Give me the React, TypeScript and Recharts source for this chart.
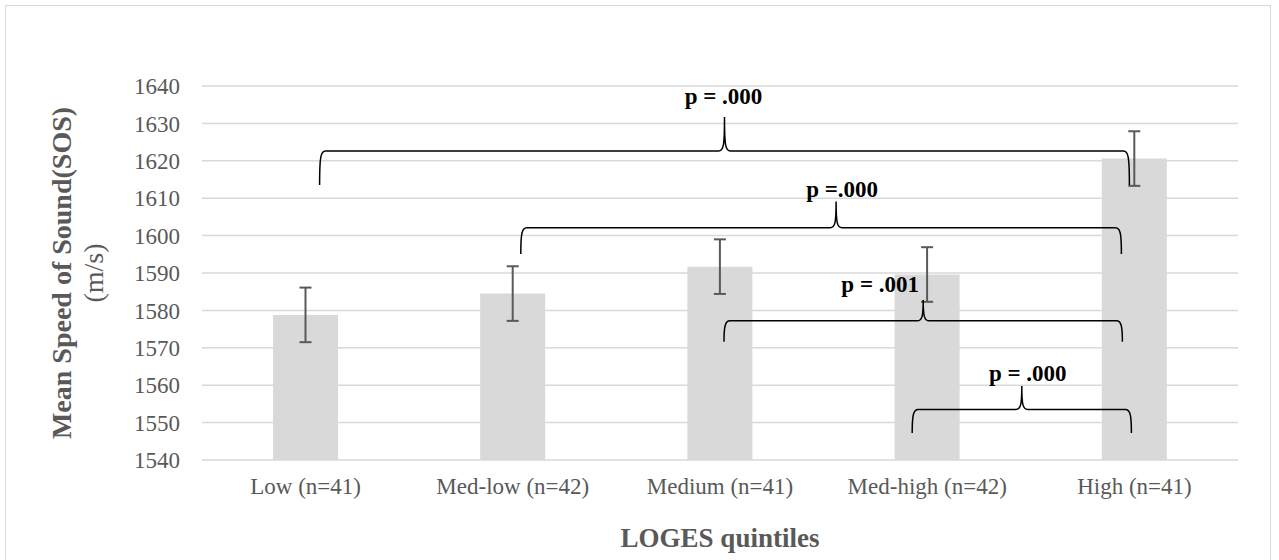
import * as React from "react";
import {
	ComposedChart,
	Bar,
	ErrorBar,
	XAxis,
	YAxis,
	CartesianGrid,
	ReferenceLine,
	Label,
} from "recharts";

// ─── Data ──────────────────────────────────────────────────────────────────

const categories = [
	"Low (n=41)",
	"Med-low (n=42)",
	"Medium (n=41)",
	"Med-high (n=42)",
	"High (n=41)",
];
const meanSOS = [1578.8, 1584.5, 1591.7, 1589.6, 1620.6];
const errSOS = [7.3, 7.3, 7.3, 7.3, 7.3];
const yTicks = [1540, 1550, 1560, 1570, 1580, 1590, 1600, 1610, 1620, 1630, 1640];

// brackets: from category index -> to category index, tip / peak values
const braceFrom = [0, 1, 2, 3];
const braceTo = [4, 4, 4, 4];
const braceTip = [1613.5, 1595.1, 1571.6, 1547.2];
const bracePeak = [1631.7, 1609.1, 1582.8, 1559.8];
const braceLabels = ["p = .000", "p =.000", "p = .001", "p = .000"];

// pixel styling of the brackets (not data)
const braceStyle = [
	{ dxFrom: 14, dxTo: -5, peakShift: 0, labelDx: -1, labelDy: -13 },
	{ dxFrom: 8, dxTo: -13, peakShift: 15, labelDx: 6, labelDy: -5 },
	{ dxFrom: 4, dxTo: -12, peakShift: 0, labelDx: -43, labelDy: -8 },
	{ dxFrom: -15, dxTo: -3, peakShift: 0, labelDx: 6, labelDy: -5 },
];

const data = categories.map((name, i) => ({
	name,
	mean: meanSOS[i],
	err: errSOS[i],
}));

const FONT = '"Liberation Serif", "Times New Roman", serif';
const GREY = "#595959";

// ─── Curly bracket drawn from ReferenceLine end points ─────────────────────

function Brace(props: any) {
	const { x1, y1, x2, y2, idx } = props;
	const st = braceStyle[idx];
	const xL = x1 + st.dxFrom;
	const xR = x2 + st.dxTo;
	const tipY = y1;
	const peakY = y2;
	const lineY = (tipY + peakY) / 2;
	const px = (xL + xR) / 2 + st.peakShift;
	const d = [
		`M ${xL} ${tipY}`,
		`C ${xL} ${lineY + 6} ${xL + 1} ${lineY} ${xL + 6} ${lineY}`,
		`L ${px - 6} ${lineY}`,
		`C ${px - 1} ${lineY} ${px} ${lineY - 5} ${px} ${peakY}`,
		`C ${px} ${lineY - 5} ${px + 1} ${lineY} ${px + 6} ${lineY}`,
		`L ${xR - 6} ${lineY}`,
		`C ${xR - 1} ${lineY} ${xR} ${lineY + 6} ${xR} ${tipY}`,
	].join(" ");
	return (
		<g>
			<path d={d} fill="none" stroke="#000" strokeWidth={1.5} />
			<text
				x={px + st.labelDx}
				y={peakY + st.labelDy}
				textAnchor="middle"
				fontFamily={FONT}
				fontWeight="bold"
				fontSize={23}
				fill="#000"
			>
				{braceLabels[idx]}
			</text>
		</g>
	);
}

function YTitle(props: any) {
	const vb = props.viewBox || { x: 0, y: 86, height: 374 };
	const cy = vb.y + vb.height / 2;
	return (
		<g fill={GREY} fontFamily={FONT} fontSize={28}>
			<text
				x={61}
				y={cy}
				transform={`rotate(-90 61 ${cy})`}
				textAnchor="middle"
				dominantBaseline="central"
				fontWeight="bold"
			>
				Mean Speed of Sound(SOS)
			</text>
			<text
				x={93}
				y={cy}
				transform={`rotate(-90 93 ${cy})`}
				textAnchor="middle"
				dominantBaseline="central"
			>
				(m/s)
			</text>
		</g>
	);
}

function XTitle(props: any) {
	const vb = props.viewBox || { x: 202, width: 1036 };
	return (
		<text
			x={vb.x + vb.width / 2}
			y={547}
			textAnchor="middle"
			fontFamily={FONT}
			fontSize={27}
			fontWeight="bold"
			fill={GREY}
		>
			LOGES quintiles
		</text>
	);
}

export default function App() {
	return (
		<div
			style={{
				position: "absolute",
				left: 0,
				top: 0,
				width: 1279,
				height: 560,
				background: "#fff",
			}}
		>
			<div
				style={{
					position: "absolute",
					left: 5,
					top: 5,
					width: 1266,
					height: 560,
					border: "1.5px solid #d9d9d9",
					boxSizing: "border-box",
				}}
			/>
			<div style={{ position: "absolute", left: 0, top: 0 }}>
				<ComposedChart
					width={1279}
					height={560}
					data={data}
					margin={{ top: 86, right: 41, bottom: 0, left: 0 }}
				>
					<CartesianGrid vertical={false} stroke="#d9d9d9" strokeWidth={1.5} />
					<XAxis
						dataKey="name"
						height={100}
						axisLine={false}
						tickLine={false}
						tickSize={0}
						tickMargin={18}
						tick={{ fill: GREY, fontSize: 23, fontFamily: FONT }}
					>
						<Label content={XTitle} />
					</XAxis>
					<YAxis
						width={202}
						domain={[1540, 1640]}
						ticks={yTicks}
						allowDataOverflow
						axisLine={false}
						tickLine={false}
						tickSize={0}
						tickMargin={22}
						tick={{ fill: GREY, fontSize: 23, fontFamily: FONT }}
					>
						<Label content={YTitle} />
					</YAxis>
					<Bar dataKey="mean" fill="#d9d9d9" barSize={65} isAnimationActive={false}>
						<ErrorBar
							dataKey="err"
							width={6}
							stroke={GREY}
							strokeWidth={2}
							isAnimationActive={false}
						/>
					</Bar>
					{braceFrom.map((f, i) => (
						<ReferenceLine
							key={i}
							segment={[
								{ x: categories[f], y: braceTip[i] },
								{ x: categories[braceTo[i]], y: bracePeak[i] },
							]}
							ifOverflow="visible"
							shape={(p: any) => <Brace {...p} idx={i} />}
						/>
					))}
				</ComposedChart>
			</div>
		</div>
	);
}
